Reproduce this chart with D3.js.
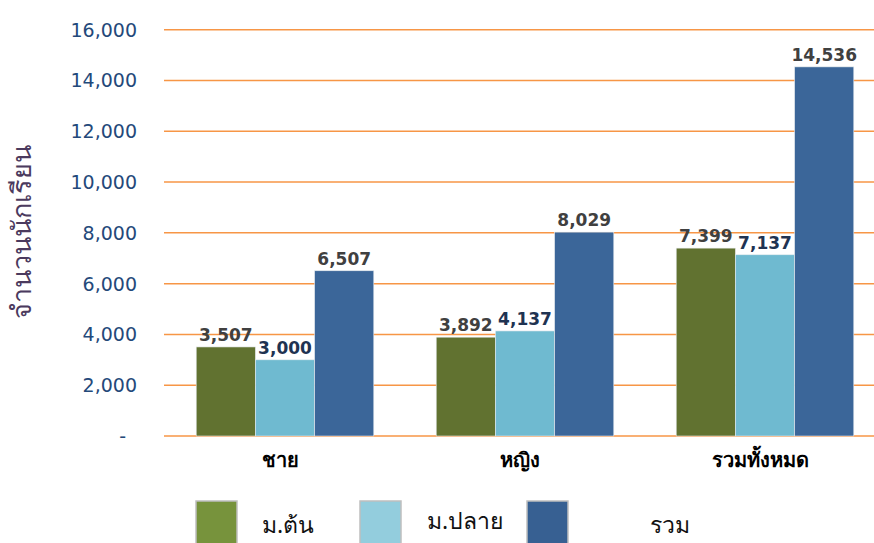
<!DOCTYPE html>
<html>
<head>
<meta charset="utf-8">
<script src="https://cdn.jsdelivr.net/npm/d3@7"></script>
<style>
  body { margin: 0; background: #fff; }
  svg { display: block; }
</style>
</head>
<body>
<div id="chart"></div>
<script>
// Students by gender / level
const categories = ["ชาย", "หญิง", "รวมทั้งหมด"];
const seriesNames = ["ม.ต้น", "ม.ปลาย", "รวม"];
const lowerSec = [3507, 3892, 7399];
const upperSec = [3000, 4137, 7137];
const total = [6507, 8029, 14536];
const yTicks = [0, 2000, 4000, 6000, 8000, 10000, 12000, 14000, 16000];
const yTitle = "จำนวนนักเรียน";

const barColors = ["#617230", "#6fbad0", "#3b6699"];
const legendColors = ["#77933c", "#93cddd", "#376092"];
const labelColors = ["#404040", "#1f3352", "#404040"];

const w = 874, h = 543;
const svg = d3.select("#chart").append("svg")
    .attr("width", w)
    .attr("height", h);

const x0 = d3.scaleBand().domain(categories).range([165, 885]).paddingInner(0.26).paddingOuter(0.13);
const x1 = d3.scaleBand().domain(seriesNames).range([0, x0.bandwidth()]);
const y = d3.scaleLinear().domain([0, 16000]).range([436, 29.7]);

// gridlines
svg.append("g")
    .selectAll("line")
    .data(yTicks)
    .enter()
    .append("line")
    .attr("x1", 164)
    .attr("x2", w)
    .attr("y1", d => y(d))
    .attr("y2", d => y(d))
    .attr("stroke", "#f79646")
    .attr("stroke-width", 1.5);

// y tick labels
svg.append("g")
    .selectAll("text")
    .data(yTicks)
    .enter()
    .append("text")
    .attr("x", d => d === 0 ? 126 : 137)
    .attr("y", d => y(d) + 7)
    .attr("text-anchor", "end")
    .attr("fill", "#24497a")
    .style("font-family", "'DejaVu Sans', sans-serif")
    .style("font-size", "19px")
    .text(d => d === 0 ? "-" : d3.format(",")(d));

// y title
svg.append("text")
    .attr("transform", "translate(31, 232) rotate(-90)")
    .attr("text-anchor", "middle")
    .attr("fill", "#4b3a5e")
    .style("font-family", "'Noto Sans', 'DejaVu Sans', sans-serif")
    .style("font-size", "27px")
    .text(yTitle);

const values = [lowerSec, upperSec, total];

// bars
const groups = svg.append("g")
    .selectAll("g")
    .data(categories)
    .enter()
    .append("g")
    .attr("transform", d => `translate(${x0(d)},0)`);

groups.selectAll("rect")
    .data((c, i) => seriesNames.map((s, j) => ({ s, j, v: values[j][i] })))
    .enter()
    .append("rect")
    .attr("x", d => x1(d.s))
    .attr("width", x1.bandwidth())
    .attr("y", d => y(d.v))
    .attr("height", d => y(0) - y(d.v))
    .attr("fill", d => barColors[d.j])
    .attr("stroke", "#e8ecef")
    .attr("stroke-width", 0.6);

// data labels
groups.selectAll("text")
    .data((c, i) => seriesNames.map((s, j) => ({ s, j, v: values[j][i] })))
    .enter()
    .append("text")
    .attr("x", d => x1(d.s) + x1.bandwidth() / 2)
    .attr("y", d => y(d.v) - 6)
    .attr("text-anchor", "middle")
    .attr("fill", d => labelColors[d.j])
    .style("font-family", "'DejaVu Sans', sans-serif")
    .style("font-weight", "bold")
    .style("font-size", "17px")
    .text(d => d3.format(",")(d.v));

// category labels
svg.append("g")
    .selectAll("text")
    .data(categories)
    .enter()
    .append("text")
    .attr("x", d => x0(d) + x0.bandwidth() / 2 - 5)
    .attr("y", 467)
    .attr("text-anchor", "middle")
    .attr("fill", "#000")
    .style("font-family", "'Noto Sans', 'DejaVu Sans', sans-serif")
    .style("font-weight", "bold")
    .style("font-size", "20px")
    .text(d => d);

// legend
const legendX = [196, 360, 527];
const legendTextX = [262, 427, 650];
const legendTextY = [533, 529, 533];
const legend = svg.append("g")
    .selectAll("g")
    .data(seriesNames)
    .enter()
    .append("g");

legend.append("rect")
    .attr("x", (d, i) => legendX[i])
    .attr("y", 501)
    .attr("width", 41)
    .attr("height", 50)
    .attr("fill", (d, i) => legendColors[i])
    .attr("stroke", "#bfbfbf")
    .attr("stroke-width", 1.5);

legend.append("text")
    .attr("x", (d, i) => legendTextX[i])
    .attr("y", (d, i) => legendTextY[i])
    .attr("fill", "#111")
    .style("font-family", "'Noto Sans', 'DejaVu Sans', sans-serif")
    .style("font-size", "23px")
    .text(d => d);
</script>
</body>
</html>
